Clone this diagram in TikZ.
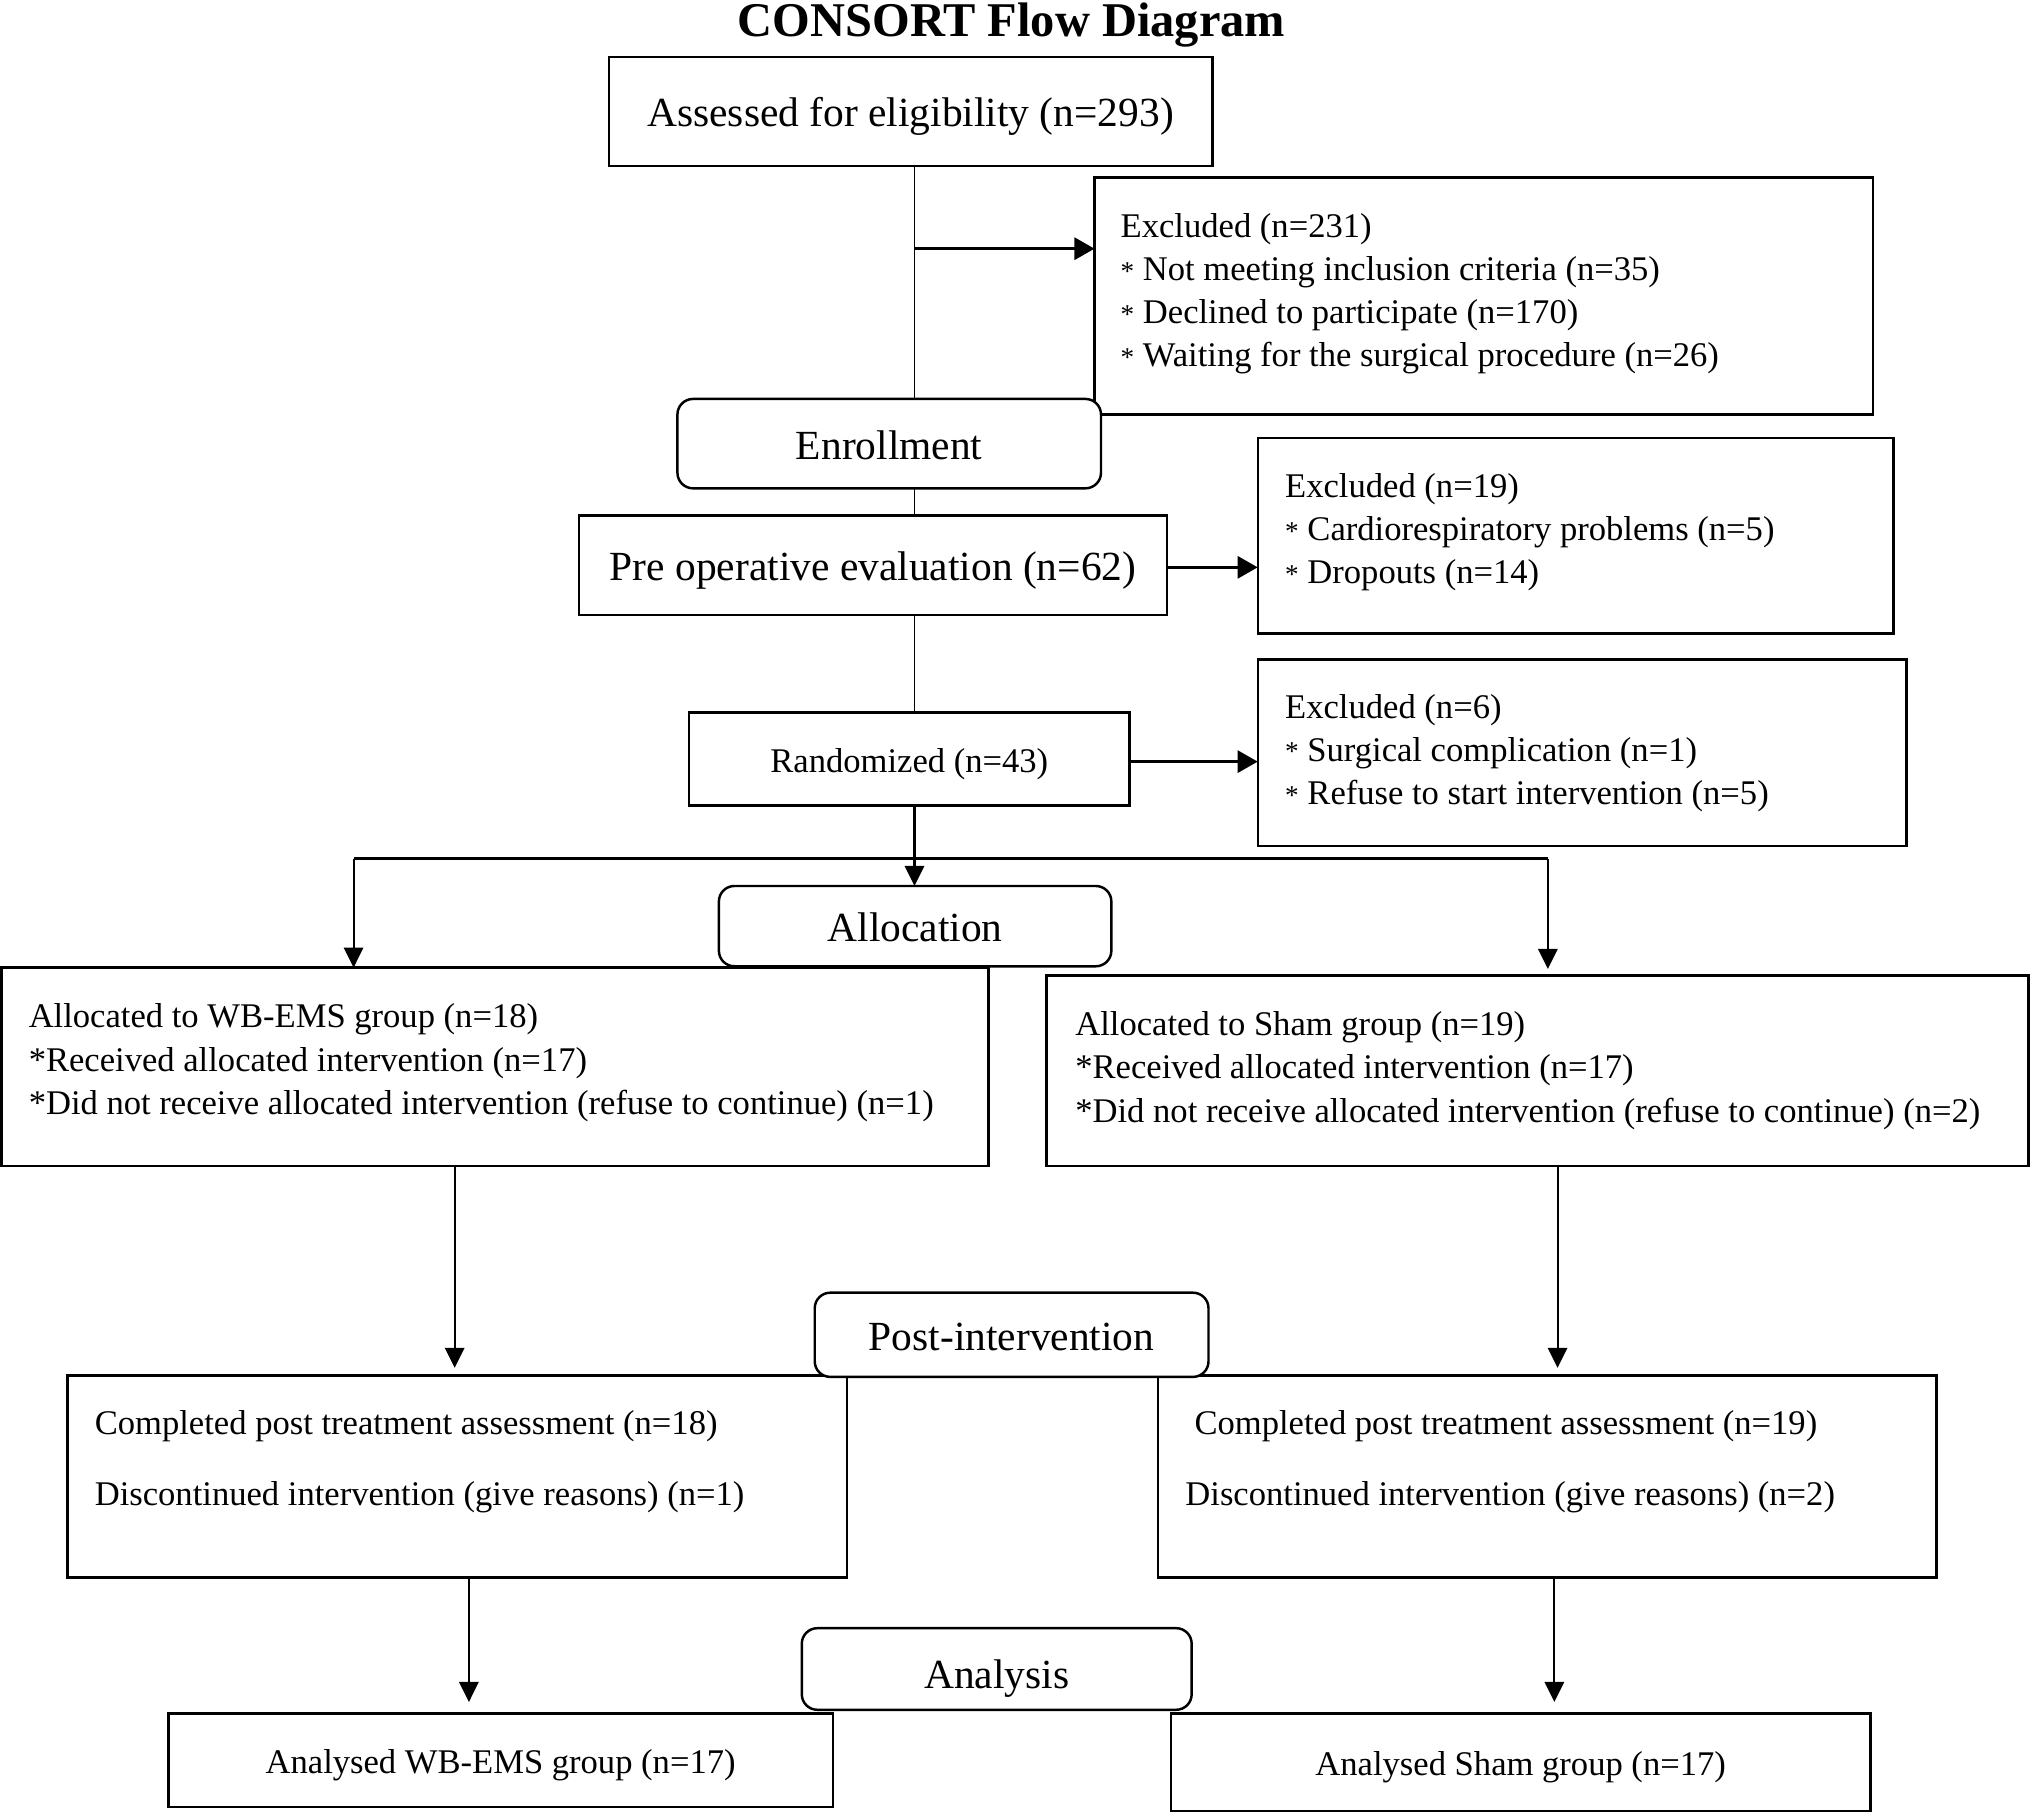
\documentclass[tikz,border=0pt]{standalone}
\usepackage{fontspec}
\setmainfont{Liberation Serif}
\usetikzlibrary{arrows.meta,calc}
\newcommand{\sast}{\raisebox{0.5pt}{\fontsize{21}{21}\selectfont *}}
\begin{document}
\begin{tikzpicture}[x=1pt,y=-1pt,
  box/.style={draw, line width=1.9pt, inner sep=0pt, outer sep=0pt, fill=white, anchor=north west, font=\fontsize{32}{38}\selectfont, text height=26pt, text depth=2pt},
  sbox/.style={box, font=\fontsize{26.7}{33.3}\selectfont, text height=22pt, text depth=1.5pt},
  rbox/.style={box, rounded corners=12pt},
  txt/.style={inner sep=0pt, anchor=west, align=left, font=\fontsize{26.7}{33.3}\selectfont},
  conn/.style={line width=1.5pt},
  arr/.style={line width=1.6pt, -{Triangle[length=15.5pt,width=15pt]}},
  harr/.style={line width=2.3pt, -{Triangle[length=15.5pt,width=17pt]}},
  split/.style={line width=2.3pt},
]
\useasboundingbox (0,0) rectangle (1568,1402);

\node[font=\bfseries\fontsize{37.4}{44}\selectfont, anchor=base, inner sep=0pt] (title) at (781,28) {CONSORT Flow Diagram};

% boxes
\node[box, minimum width=466, minimum height=84] (box1) at (470,44) {Assessed for eligibility (n=293)};
\node[box, minimum width=601, minimum height=183] (excl1) at (845,137) {};
\node[rbox, minimum width=327, minimum height=69] (enroll) at (523,308) {Enrollment};
\node[box, minimum width=454, minimum height=77] (preop) at (447,398) {Pre operative evaluation (n=62)};
\node[box, minimum width=491, minimum height=151] (excl2) at (971,338) {};
\node[sbox, minimum width=340, minimum height=72] (rand) at (532,550) {Randomized (n=43)};
\node[box, minimum width=501, minimum height=144] (excl3) at (971,509) {};
\node[box, minimum width=762, minimum height=153] (lalloc) at (1,747) {};
\node[box, minimum width=758, minimum height=147] (ralloc) at (808,753) {};
\node[rbox, minimum width=303, minimum height=62] (alloc) at (555,684) {Allocation};
\node[box, minimum width=602, minimum height=156] (lpost) at (52,1062) {};
\node[box, minimum width=601, minimum height=156] (rpost) at (894,1062) {};
\node[rbox, minimum width=304, minimum height=65] (postint) at (629,998) {Post-intervention};
\node[sbox, minimum width=513, minimum height=72] (lanal) at (130,1323) {Analysed WB-EMS group (n=17)};
\node[sbox, minimum width=540, minimum height=75] (ranal) at (904,1323) {Analysed Sham group (n=17)};
\node[rbox, minimum width=301, minimum height=63] (analysis) at (619,1257) {\raisebox{-3pt}{Analysis}};

% texts of multi-line boxes
\node[txt] (excl1t) at (865,227) {Excluded (n=231)\\\sast{} Not meeting inclusion criteria (n=35)\\\sast{} Declined to participate (n=170)\\\sast{} Waiting for the surgical procedure (n=26)};
\node[txt] (excl2t) at (992,411) {Excluded (n=19)\\\sast{} Cardiorespiratory problems (n=5)\\\sast{} Dropouts (n=14)};
\node[txt] (excl3t) at (992,581.5) {Excluded (n=6)\\\sast{} Surgical complication (n=1)\\\sast{} Refuse to start intervention (n=5)};
\node[txt] (lallt) at (22,820.5) {Allocated to WB-EMS group (n=18)\\*Received allocated intervention (n=17)\\*Did not receive allocated intervention (refuse to continue) (n=1)};
\node[txt] (rallt) at (830,826.5) {Allocated to Sham group (n=19)\\*Received allocated intervention (n=17)\\*Did not receive allocated intervention (refuse to continue) (n=2)};
\node[txt] (lpostt) at (73,1128.5) {Completed post treatment assessment (n=18)\\[21.7pt]Discontinued intervention (give reasons) (n=1)};
\node[txt] (rpostt) at (915,1128.5) {\hspace*{7pt}Completed post treatment assessment (n=19)\\[21.7pt]Discontinued intervention (give reasons) (n=2)};

% connector coordinates
\coordinate (spine) at (706,0);
\coordinate (s1) at (706,192);
\coordinate (ls) at (273,663);
\coordinate (rs) at (1195,663);
\coordinate (la) at (351,0);
\coordinate (ra) at (1202.5,0);
\coordinate (lb) at (362,0);
\coordinate (rb) at (1200,0);

% connectors
\draw[conn] (box1.south -| spine) -- (enroll.north -| spine);
\draw[harr] (s1) -- (s1 -| excl1.west);
\draw[conn] (enroll.south -| spine) -- (preop.north -| spine);
\draw[harr] (preop.east |- 0,438) -- (excl2.west |- 0,438);
\draw[conn] (preop.south -| spine) -- (rand.north -| spine);
\draw[harr] (rand.east |- 0,588) -- (excl3.west |- 0,588);
\draw[arr] (rand.south -| spine) -- (alloc.north -| spine);
\draw[split] (ls) -- (rs);
\draw[arr] (ls) -- (ls |- lalloc.north);
\draw[arr, shorten >=5pt] (rs) -- (rs |- ralloc.north);
\draw[arr, shorten >=6pt] (lalloc.south -| la) -- (lpost.north -| la);
\draw[arr, shorten >=6pt] (ralloc.south -| ra) -- (rpost.north -| ra);
\draw[arr, shorten >=9pt] (lpost.south -| lb) -- (lanal.north -| lb);
\draw[arr, shorten >=9pt] (rpost.south -| rb) -- (ranal.north -| rb);
\end{tikzpicture}
\end{document}
